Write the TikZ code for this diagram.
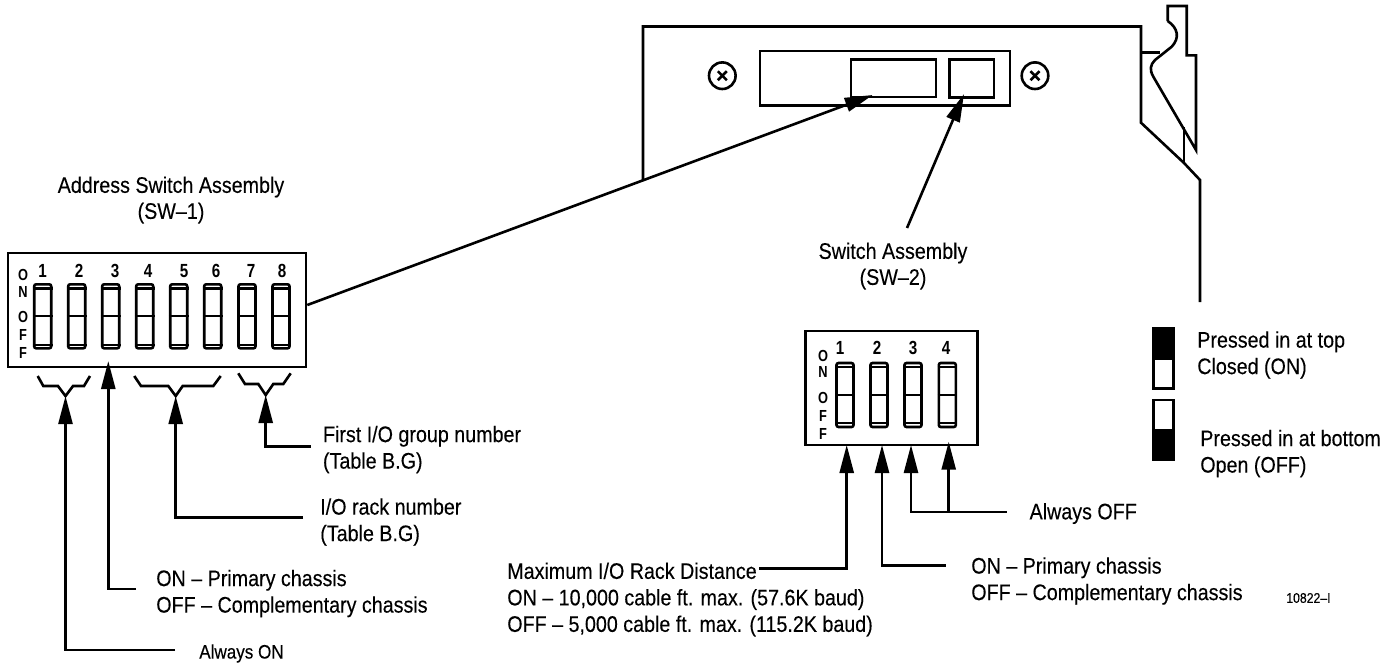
\documentclass[tikz,border=0pt]{standalone}
\usepackage{fontspec}
\setmainfont{Liberation Sans}[FakeStretch=0.875,FakeBold=0.2]
\newfontfamily\keyfont{Liberation Sans}[FakeStretch=0.8]
\usetikzlibrary{arrows.meta,calc}
\begin{document}
\begin{tikzpicture}[x=1pt,y=-1pt,line width=2.6pt,line join=miter,every node/.style={inner sep=0pt,align=left}]
\tikzset{lbl/.style={font=\fontsize{22.5}{26.5}\selectfont,anchor=west}, capt/.style={font=\fontsize{22.5}{26}\selectfont,align=center}, swbox/.style={draw,minimum width=#1,minimum height=114pt}, toggle/.style={draw,rounded corners=2pt,minimum width=17pt,minimum height=64pt}, digit/.style={font=\keyfont\fontsize{19}{19}\selectfont\bfseries}, letter/.style={font=\keyfont\fontsize{16}{16}\selectfont\bfseries}, lead/.style={-{Triangle[length=28pt,width=14pt]}}, legendbox/.style={draw,minimum width=20pt,minimum height=60pt}}
\useasboundingbox (0,0) rectangle (1397,667);
% address switch assembly
\node[capt] (capA) at (171,200) {Address Switch Assembly\\(SW--1)};
\node[swbox=298pt] (swA) at (157,310) {};
\foreach \n/\x/\lx in {1/42.7/42.7,2/76.7/79,3/110.7/115,4/144.7/148,5/178.7/184,6/212.7/216,7/247/251,8/281/282}{
  \node[toggle] (a\n) at (\x,316.3) {};
  \node[digit] (da\n) at (\lx,270.7) {\n};
  \draw[line width=2.2pt] (a\n.west)--(a\n.east);
  \draw[line width=2.2pt] ($(a\n.north west)+(0,5.5)$)--($(a\n.north east)+(0,5.5)$);
  \draw[line width=2.2pt] ($(a\n.south west)+(0,-5)$)--($(a\n.south east)+(0,-5)$);
}
\foreach \m/\c/\y in {a/O/275,b/N/292,c/O/317,d/F/335,e/F/353}{
  \node[letter] (la\m) at (23,\y) {\c};
}
% brackets under the switches
\coordinate (forkA) at (65.5,396);
\coordinate (forkB) at (175.7,396);
\coordinate (forkC) at (265.7,395);
\draw (37.7,376)--(43.3,386)--(58,386)--(forkA)--(73,386)--(84,386)--(90,376);
\draw (134.3,376)--(141,386)--(168.3,386)--(forkB)--(182.7,386)--(213.3,386)--(220.7,376);
\draw (238.3,373.3)--(245,384)--(258.3,384)--(forkC)--(273.3,384)--(283.3,384)--(290.7,373.3);
\coordinate (tipA) at (108.3,361);
\coordinate (endA) at (175,650);
\coordinate (endB) at (136,589);
\coordinate (endC) at (303,517.7);
\coordinate (endD) at (310.7,446.7);
\draw[lead] (endA) -| (forkA);
\draw[lead] (endB) -| (tipA);
\draw[lead] (endC) -| (forkB);
\draw[lead] (endD) -| (forkC);
\node[lbl] (first) at (321.7,449.5) {First I/O group number\\(Table B.G)};
\node[lbl] (rack) at (319,522) {I/O rack number\\(Table B.G)};
\node[lbl] (prim) at (155,593.5) {ON -- Primary chassis\\OFF -- Complementary chassis};
\node[lbl,font=\fontsize{19.5}{22}\selectfont] (always) at (198,653.5) {Always ON};
% module panel
\node[draw,minimum width=250pt,minimum height=54.7pt] (plate) at (885,78.3) {};
\node[draw,minimum width=85pt,minimum height=37.7pt] (sockA) at (893.5,78.2) {};
\node[draw,minimum width=44.7pt,minimum height=38.4pt] (sockB) at (971.7,78.5) {};
\foreach \n/\x in {l/722.3,r/1035}{
  \node[draw,circle,minimum size=26.6pt] (screw\n) at (\x,75.7) {};
  \draw ($(screw\n)+(-4.5,-4.5)$)--($(screw\n)+(4.5,4.5)$);
  \draw ($(screw\n)+(-4.5,4.5)$)--($(screw\n)+(4.5,-4.5)$);
}
\coordinate (pnlA) at (643,181);
\coordinate (pnlB) at (1184,163);
\draw (pnlA)--(643,26.5)--(1141,26.5)--(1141,122.7)--(pnlB)--(1200,180)--(1200,302);
\draw (pnlB)--(1184,127);
\draw (1141,52.7)--(1160,52.7);
\draw (1167.7,21)--(1167.7,6)--(1186.7,6)--(1186.7,55.3)--(1196,55.3)--(1196,150)--(1153.3,76.7)
  .. controls (1149.5,70) and (1150,65) .. (1155,60)--(1171.7,46.7)
  .. controls (1180,38) and (1178,28) .. (1167.7,21);
% leaders to the panel
\coordinate (tipS1) at (872.7,95);
\coordinate (tipS2) at (964,94);
\coordinate (startS2) at (907,228);
\draw[lead] (swA.east |- 0,305) -- (tipS1);
\draw[lead] (startS2) -- (tipS2);
\node[capt] (capB) at (893,266) {Switch Assembly\\(SW--2)};
% switch assembly 2
\node[swbox=172pt] (swB) at (891.3,388) {};
\foreach \n/\x/\lx in {1/845/840,2/879/877,3/913/913,4/947.3/946}{
  \node[toggle] (b\n) at (\x,395) {};
  \node[digit] (db\n) at (\lx,348) {\n};
  \draw[line width=2.2pt] (b\n.west)--(b\n.east);
  \draw[line width=2.2pt] ($(b\n.north west)+(0,5.5)$)--($(b\n.north east)+(0,5.5)$);
  \draw[line width=2.2pt] ($(b\n.south west)+(0,-5)$)--($(b\n.south east)+(0,-5)$);
}
\foreach \m/\c/\y in {a/O/356,b/N/371.7,c/O/397.7,d/F/415.7,e/F/434}{
  \node[letter] (lb\m) at (823,\y) {\c};
}
\coordinate (tipB1) at (846.7,445);
\coordinate (tipB2) at (882,445);
\coordinate (tipB3) at (911,445);
\coordinate (tipB4) at (948.7,441.7);
\coordinate (endB1) at (759,568.7);
\coordinate (endB2) at (945.7,565.7);
\coordinate (endB3) at (1006.7,512);
\draw[lead] (endB1) -| (tipB1);
\draw[lead] (endB2) -| (tipB2);
\draw[lead] (endB3) -| (tipB3);
\draw[lead] (tipB4 |- endB3) -- (tipB4);
\node[lbl] (maxd) at (506,599.5) {Maximum I/O Rack Distance\\ON -- 10,000 cable ft. max. (57.6K baud)\\OFF -- 5,000 cable ft. max. (115.2K baud)};
\node[lbl] (off) at (1028.3,513.5) {Always OFF};
\node[lbl] (prim2) at (970,581) {ON -- Primary chassis\\OFF -- Complementary chassis};
\node[lbl,font=\fontsize{14}{16}\selectfont] (fig) at (1285,598) {10822--I};
% legend
\node[legendbox] (top) at (1163.5,358.5) {};
\fill (top.north west) rectangle ($(top.east)+(0,1.5)$);
\node[legendbox] (bot) at (1163.5,430) {};
\fill ($(bot.west)+(0,-1)$) rectangle (bot.south east);
\node[lbl] (close) at (1196,355) {Pressed in at top\\Closed (ON)};
\node[lbl] (open) at (1199,453.5) {Pressed in at bottom\\Open (OFF)};
\end{tikzpicture}
\end{document}
